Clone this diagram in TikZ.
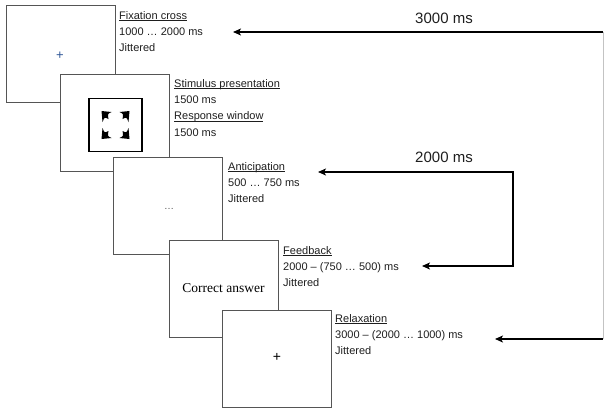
\documentclass[tikz,border=0pt]{standalone}
\usepackage{fontspec}
\setmainfont{Liberation Sans}
\newfontfamily\serifface{Liberation Serif}
\usetikzlibrary{arrows.meta,positioning}
\definecolor{boxgray}{RGB}{85,85,85}
\definecolor{crossblue}{RGB}{45,85,150}
\definecolor{railgray}{RGB}{195,195,195}
\definecolor{txt}{RGB}{30,30,30}
\newsavebox\headbox
\newcommand{\phasehead}[1]{\sbox\headbox{#1}\rlap{\rule[-1.8pt]{\wd\headbox}{0.6pt}}\usebox\headbox}

\begin{document}
\begin{tikzpicture}[
  x=1pt,y=-1pt,
  font=\fontsize{11}{16.4}\selectfont,
  >={Stealth[length=8pt,width=7pt,inset=2pt]},
  screen/.style={draw=boxgray,fill=white,line width=0.8pt,minimum width=109pt,minimum height=97pt,inner sep=0pt},
  info/.style={anchor=north west,align=left,inner sep=0pt,text=txt},
  arr/.style={->,line width=1.4pt},
  rail/.style={draw=railgray,line width=0.7pt},
  dur/.style={font=\fontsize{15}{18}\selectfont,text=txt},
]
\useasboundingbox (0,0) rectangle (604,408);

% screens, front ones drawn last
\node[screen] (fix) at (61,53.5) {};
\node[text=crossblue,font=\fontsize{13}{13}\selectfont] (fixcross) at (60,56) {+};

\node[screen] (stim) at (115,123) {};
\node[draw,line width=1.8pt,minimum size=53pt,inner sep=0pt] (stimframe) at (115.5,125) {};
\foreach \sx/\sy in {-1/-1,1/-1,-1/1,1/1}
  \fill[black,shift={(stimframe.center)},xscale=\sx,yscale=\sy]
    (-14,-14) -- (-4,-13) .. controls (-8,-11) .. (-7,-6)
    .. controls (-11,-8) .. (-13,-3) -- cycle;

\node[screen] (anti) at (167.5,206) {};
\node[text=boxgray,font=\fontsize{10}{10}\selectfont] (antidots) at (169,209) {…};

\node[screen] (feed) at (223.5,288.5) {\fontsize{13.5}{16}\serifface Correct answer};

\node[screen] (relax) at (276.5,358.5) {};
\node[font=\fontsize{14}{14}\selectfont] (relaxcross) at (277,357) {+};

% phase texts
\node[info] (fixlbl) at (119,11) {\phasehead{Fixation cross}\\1000 … 2000 ms\\Jittered};
\node[info] (stimlbl) at (174,79) {\phasehead{Stimulus presentation}\\1500 ms\\\phasehead{Response window}\\1500 ms};
\node[info] (antilbl) at (228,162) {\phasehead{Anticipation}\\500 … 750 ms\\Jittered};
\node[info] (feedlbl) at (283,246) {\phasehead{Feedback}\\2000 – (750 … 500) ms\\Jittered};
\node[info] (relaxlbl) at (335,314) {\phasehead{Relaxation}\\3000 – (2000 … 1000) ms\\Jittered};

% timing brackets
\coordinate (rtop) at (603,32);
\coordinate (rbot) at (603,339);
\coordinate (fixtip) at (233,32);
\coordinate (relaxtip) at (495,339);
\coordinate (ltop) at (513,172);
\coordinate (lbot) at (513,266);
\coordinate (antitip) at (318,172);
\coordinate (feedtip) at (422,266);

\draw[rail] (rtop) -- (rbot);
\draw[arr] (rtop) -- (fixtip);
\draw[arr] (rbot) -- (relaxtip);
\draw[arr,<->] (antitip) -- (ltop) -- (lbot) -- (feedtip);

\node[dur] (t3000) at (444,18) {3000 ms};
\node[dur] (t2000) at (444,157) {2000 ms};
\end{tikzpicture}
\end{document}
